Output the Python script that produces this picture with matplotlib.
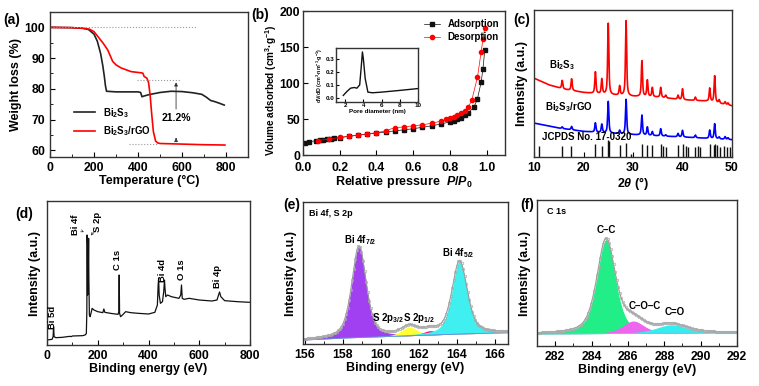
import numpy as np
import matplotlib
matplotlib.use('Agg')
import matplotlib.pyplot as plt
from matplotlib.ticker import MultipleLocator

plt.rcParams.update({
    'font.family': 'Liberation Sans',
    'font.weight': 'bold',
    'axes.labelweight': 'bold',
    'mathtext.fontset': 'custom',
    'mathtext.rm': 'Liberation Sans:bold',
    'mathtext.it': 'Liberation Sans:italic:bold',
    'mathtext.bf': 'Liberation Sans:bold',
    'xtick.direction': 'in',
    'ytick.direction': 'in',
    'axes.linewidth': 1.0,
    'axes.edgecolor': '#333333',
    'xtick.labelsize': 8.8,
    'ytick.labelsize': 8.8,
    'axes.labelsize': 9,
})

# (a) TGA
tga_T_bi2s3 = [0, 100, 150, 175, 200, 215, 230, 240, 247, 252, 257, 300, 350, 400, 412, 418, 425, 450,
               500, 550, 600, 650, 690, 710, 730, 750, 770, 792]
tga_w_bi2s3 = [100, 99.9, 99.7, 99.3, 97.8, 95.5, 91.5, 87.5, 84, 81, 79.2, 79, 79, 79, 78.8, 77.4, 77.6, 78.1,
               78.8, 79.2, 79.1, 78.7, 78.2, 77.3, 76.2, 75.8, 75.3, 74.7]
tga_T_rgo = [0, 100, 150, 180, 200, 220, 240, 262, 285, 300, 323, 368, 414, 422, 428, 440, 448, 455, 462,
             470, 480, 489, 500, 600, 700, 795]
tga_w_rgo = [100, 99.9, 99.7, 99.4, 98.6, 96.8, 95, 92.7, 88.9, 87.8, 86.8, 85.6, 85.2, 85.1, 84, 83.5, 82,
             78, 72, 66, 63, 62.4, 62.2, 62, 61.8, 61.7]

# (b) N2 isotherm
ads_p = [0.01, 0.03, 0.07, 0.09, 0.11, 0.13, 0.15, 0.17, 0.2, 0.25, 0.3, 0.35, 0.4, 0.45, 0.5, 0.55, 0.6,
         0.65, 0.7, 0.75, 0.8, 0.82, 0.84, 0.86, 0.88, 0.9, 0.93, 0.95, 0.97, 0.98, 0.99]
ads_v = [16, 18, 20, 21, 21.5, 22, 22.5, 23, 24, 26, 27.5, 29, 30.5, 32, 33.5, 35, 36.5, 38.5, 40.5, 43,
         46, 47.5, 49.5, 52, 55, 59, 66, 78, 101, 120, 146]
des_p = [0.08, 0.14, 0.2, 0.25, 0.3, 0.35, 0.4, 0.45, 0.5, 0.55, 0.6, 0.65, 0.7, 0.75, 0.78, 0.8, 0.82,
         0.84, 0.86, 0.88, 0.9, 0.92, 0.95, 0.97, 0.98, 0.99]
des_v = [20, 22, 24.5, 26, 27.5, 29.5, 31, 33.5, 38, 39, 40.5, 42, 44, 47, 49.5, 51, 53, 55, 58, 61, 66,
         77, 108, 143, 161, 177]
pore_d = [1.8, 2.2, 2.6, 3.0, 3.3, 3.6, 3.75, 3.9, 4.0, 4.2, 4.5, 5.0, 6.0, 8.0, 10.0]
pore_v = [0.02, 0.05, 0.075, 0.08, 0.075, 0.1, 0.22, 0.35, 0.3, 0.15, 0.045, 0.04, 0.045, 0.058, 0.072]

# (c) XRD
xrd_pos = [15.7, 17.6, 22.4, 23.7, 25.0, 27.3, 28.6, 31.8, 32.9, 33.9, 35.6, 36.6, 39.1, 40.0, 42.6,
           45.5, 46.5, 47.4, 48.6, 49.2]
xrd_red_h = [25, 35, 65, 45, 215, 28, 227, 108, 50, 28, 30, 8, 12, 33, 10, 40, 80, 10, 8, 6]
xrd_blue_h = [5, 10, 28, 25, 95, 10, 105, 60, 25, 12, 22, 4, 10, 20, 8, 25, 45, 6, 8, 5]
red_base_x = [10, 13, 16, 20, 25, 30, 35, 40, 45, 50]
red_base_y = [237, 217, 204, 194, 187, 182, 180, 172, 168, 154]
blue_base_x = [10, 15, 20, 25, 30, 40, 50]
blue_base_y = [102, 87, 77, 72, 67, 60, 52]
jcpds_pos = [11.1, 15.7, 17.5, 22.3, 23.7, 24.9, 25.2, 27.4, 28.6, 29.5, 31.8, 32.9, 33.9, 35.6, 36.0, 36.6,
             39.1, 40.0, 40.7, 41.2, 42.5, 43.1, 43.6, 45.5, 46.4, 46.6, 46.9, 47.5, 48.3, 49.0, 49.6]
jcpds_h = [32, 32, 34, 40, 34, 52, 48, 35, 42, 8, 40, 35, 37, 39, 34, 30, 35, 39, 32, 30, 30, 32, 30, 39,
           35, 40, 35, 30, 32, 30, 30]

# (d) XPS survey
sur_e = [0, 10, 20, 24, 26, 28, 35, 60, 90, 95, 100, 140, 150, 155, 157, 158, 159, 160, 162, 164, 165, 167,
         170, 178, 185, 200, 220, 224, 228, 250, 280, 283, 284.5, 286, 290, 300, 310, 330, 360, 400, 425, 435,
         438, 440, 442, 447, 455, 460, 463, 465, 468, 475, 490, 520, 527, 530, 533, 540, 560, 600, 650, 670,
         676, 680, 685, 700, 750, 800]
sur_i = [15, 16, 17, 25, 55, 25, 22, 23, 26, 25, 27, 28, 30, 34, 100, 330, 300, 150, 180, 320, 200, 90, 85,
         110, 105, 100, 97, 108, 98, 95, 92, 100, 210, 95, 85, 92, 100, 97, 95, 93, 98, 120, 180, 200, 150,
         125, 130, 160, 195, 170, 145, 150, 145, 140, 150, 180, 140, 137, 140, 135, 132, 135, 150, 159, 145,
         133, 130, 128]

# (e) Bi 4f / S 2p fit
e_names = ['Bi 4f7/2', 'S 2p3/2', 'S 2p1/2', 'Bi 4f5/2']
e_center = [158.85, 161.5, 162.6, 164.15]
e_amp = [274, 26, 13, 219]
e_fwhm = [0.9, 1.0, 0.9, 0.95]
e_color = ['#A040F0', '#FFFF33', '#FF1A75', '#40F0F0']
e_bg_x = [155.9, 158, 160, 162, 164, 166.7]
e_bg_y = [12, 18, 22, 26, 30, 34]

# (f) C 1s fit
f_center = [284.8, 286.3, 288.4]
f_amp = [282, 37, 25]
f_fwhm = [1.2, 1.4, 2.0]
f_color = ['#22EE88', '#EE66EE', '#33EEF0']
f_bg_x = [281, 292]
f_bg_y = [36, 40]


def pv(x, c, a, w, eta=0.5):
    g = np.exp(-4 * np.log(2) * (x - c) ** 2 / w ** 2)
    l = 1 / (1 + 4 * (x - c) ** 2 / w ** 2)
    return a * (eta * l + (1 - eta) * g)


W, H = 759, 386
fig = plt.figure(figsize=(W / 100, H / 100), dpi=100)


def rect(l, r, t, b):
    return [l / W, 1 - b / H, (r - l) / W, (b - t) / H]


# ---- (a)
ax = fig.add_axes(rect(50, 248, 12, 157))
ax.plot(tga_T_bi2s3, tga_w_bi2s3, color='#222222', lw=1.2, label='Bi$_2$S$_3$')
ax.plot(tga_T_rgo, tga_w_rgo, color='#FF0000', lw=1.2, label='Bi$_2$S$_3$/rGO')
ax.plot([0, 670], [100, 100], ls=':', color='#999999', lw=0.8)
ax.plot([395, 595], [83, 83], ls=':', color='#999999', lw=0.8)
ax.plot([360, 490], [62, 62], ls=':', color='#999999', lw=0.8)
ax.annotate('', xy=(573, 83), xytext=(573, 72.5),
            arrowprops=dict(arrowstyle='-|>', color='#333333', lw=0.6, mutation_scale=5))
ax.annotate('', xy=(573, 64), xytext=(573, 62.8),
            arrowprops=dict(arrowstyle='-|>', color='#333333', lw=0.6, mutation_scale=5))
ax.text(575, 70.5, '21.2%', ha='center', va='center', fontsize=7.5)
ax.set_xlim(0, 900)
ax.set_ylim(57.8, 105)
ax.xaxis.set_major_locator(MultipleLocator(200))
ax.xaxis.set_minor_locator(MultipleLocator(100))
ax.yaxis.set_major_locator(MultipleLocator(10))
ax.yaxis.set_minor_locator(MultipleLocator(5))
ax.set_xlabel('Temperature (°C)', labelpad=1)
ax.set_ylabel('Weight loss (%)', labelpad=2)
ax.legend(loc='upper left', bbox_to_anchor=(0.1, 0.38), frameon=False, fontsize=7,
          handlelength=2.2, labelspacing=0.5, borderaxespad=0)
fig.text(3 / W, 1 - 20 / H, '(a)', fontsize=10, va='center')

# ---- (b)
ax = fig.add_axes(rect(303, 505, 11, 155))
ax.plot(ads_p, ads_v, '-s', color='#111111', ms=3, lw=0.5, label='Adsorption')
ax.plot(des_p, des_v, '-o', color='#FF0000', ms=3, lw=0.5, label='Desorption')
ax.set_xlim(0, 1.1)
ax.set_ylim(0, 200)
ax.xaxis.set_major_locator(MultipleLocator(0.2))
ax.yaxis.set_major_locator(MultipleLocator(50))
ax.tick_params(axis='y', pad=2)
ax.tick_params(axis='x', pad=5)
ax.set_xlabel('Relative pressure  $P/P_0$', labelpad=0)
ax.set_ylabel('Volume adsorbed (cm$^3$·g$^{-1}$)', fontsize=7.2)
ax.yaxis.set_label_coords(-0.118, 0.45)
ax.legend(loc='upper right', bbox_to_anchor=(0.99, 0.97), frameon=False, fontsize=7,
          handlelength=1.6, labelspacing=0.3, borderaxespad=0)
fig.text(251 / W, 1 - 15 / H, '(b)', fontsize=10, va='center')

ins = fig.add_axes(rect(336, 418, 48, 102))
ins.plot(pore_d, pore_v, color='#111111', lw=1.0)
ins.set_xlim(1, 10)
ins.set_ylim(-0.03, 0.38)
ins.xaxis.set_major_locator(MultipleLocator(2))
ins.yaxis.set_major_locator(MultipleLocator(0.1))
ins.tick_params(labelsize=4.5, length=2, pad=1)
ins.set_xlabel('Pore diameter (nm)', fontsize=4.5, labelpad=0.5)
ins.set_ylabel('dV/dD (cm$^3$·nm$^{-1}$·g$^{-1}$)', fontsize=3.8, labelpad=0.5)

# ---- (c)
ax = fig.add_axes(rect(534, 732, 10, 157))
tt = np.linspace(10, 50, 2000)
red_curve = np.interp(tt, red_base_x, red_base_y)
blue_curve = np.interp(tt, blue_base_x, blue_base_y)
for p, hr, hb in zip(xrd_pos, xrd_red_h, xrd_blue_h):
    red_curve = red_curve + pv(tt, p, hr, 0.28, 0.7)
    blue_curve = blue_curve + pv(tt, p, hb, 0.28, 0.7)
ax.plot(tt, red_curve, color='#FF0000', lw=1.2)
ax.plot(tt, blue_curve, color='#0000FF', lw=1.2)
ax.vlines(jcpds_pos, 0, jcpds_h, color='#111111', lw=1.0)
ax.text(13.0, 275, 'Bi$_2$S$_3$', fontsize=7, va='center')
ax.text(12.3, 150, 'Bi$_2$S$_3$/rGO', fontsize=7, va='center')
ax.text(11.6, 60, 'JCPDS No. 17-0320', fontsize=7, va='center')
ax.set_xlim(10, 50)
ax.set_ylim(0, 442)
ax.set_yticks([])
ax.xaxis.set_major_locator(MultipleLocator(10))
ax.set_xlabel('2$\\theta$ (°)', labelpad=1)
ax.set_ylabel('Intensity (a.u.)', labelpad=4)
fig.text(513 / W, 1 - 20 / H, '(c)', fontsize=10, va='center')

# ---- (d)
ax = fig.add_axes(rect(47, 250, 201, 345))
ax.plot(sur_e, sur_i, color='#111111', lw=0.9)
ax.set_xlim(0, 800)
ax.set_ylim(0, 432)
ax.set_yticks([])
ax.xaxis.set_major_locator(MultipleLocator(200))
ax.xaxis.set_minor_locator(MultipleLocator(100))
ax.set_xlabel('Binding energy (eV)', labelpad=1)
ax.set_ylabel('Intensity (a.u.)', labelpad=4)
for s, x, y in [('Bi 5d', 23, 82), ('Bi 4f', 112, 360), ('S 2p', 200, 370), ('C 1s', 278, 255),
                ('Bi 4d', 455, 225), ('O 1s', 529, 225), ('Bi 4p', 671, 205)]:
    ax.text(x, y, s, rotation=90, fontsize=6.8, ha='center', va='center')
ax.annotate('', xy=(155, 335), xytext=(128, 345),
            arrowprops=dict(arrowstyle='->', color='#333333', lw=0.5, mutation_scale=4))
ax.annotate('', xy=(166, 322), xytext=(190, 345),
            arrowprops=dict(arrowstyle='->', color='#333333', lw=0.5, mutation_scale=4))
fig.text(15 / W, 1 - 214 / H, '(d)', fontsize=10, va='center')

# ---- (e)
ax = fig.add_axes(rect(303, 508, 202, 344))
ee = np.linspace(155.9, 166.7, 800)
bg_e = np.interp(ee, e_bg_x, e_bg_y)
comps = [pv(ee, c, a, w) for c, a, w in zip(e_center, e_amp, e_fwhm)]
for comp, col in zip(comps, e_color):
    ax.fill_between(ee, bg_e, bg_e + comp, color=col, lw=0)
env = bg_e + np.sum(comps, axis=0)
ax.plot(ee, bg_e, color='#6688DD', lw=0.6)
ax.plot(ee, env, color='#999999', lw=0.8)
ax.plot(ee[::6], env[::6], 'o', mfc='none', mec='#AAAAAA', ms=1.8, mew=0.5)
ax.text(158.9, 312, 'Bi 4f$_{7/2}$', fontsize=7, ha='center', va='center')
ax.text(164.1, 272, 'Bi 4f$_{5/2}$', fontsize=7, ha='center', va='center')
ax.text(160.4, 77, 'S 2p$_{3/2}$', fontsize=7, ha='center', va='center')
ax.text(162.0, 77, 'S 2p$_{1/2}$', fontsize=7, ha='center', va='center')
ax.text(0.03, 0.92, 'Bi 4f, S 2p', transform=ax.transAxes, fontsize=6.5, va='center')
ax.set_xlim(155.9, 166.7)
ax.set_ylim(0, 427)
ax.set_yticks([])
ax.xaxis.set_major_locator(MultipleLocator(2))
ax.xaxis.set_minor_locator(MultipleLocator(1))
ax.set_xlabel('Binding energy (eV)', labelpad=1)
ax.set_ylabel('Intensity (a.u.)', labelpad=4)
fig.text(283 / W, 1 - 205 / H, '(e)', fontsize=10, va='center')

# ---- (f)
ax = fig.add_axes(rect(537, 737, 200, 346))
ff = np.linspace(281, 292, 800)
bg_f = np.interp(ff, f_bg_x, f_bg_y)
comps = [pv(ff, c, a, w) for c, a, w in zip(f_center, f_amp, f_fwhm)]
for comp, col in zip(comps, f_color):
    ax.fill_between(ff, bg_f, bg_f + comp, color=col, lw=0)
env = bg_f + np.sum(comps, axis=0)
ax.plot(ff, bg_f, color='#66CCDD', lw=0.6)
ax.plot(ff, env, color='#999999', lw=0.8)
ax.plot(ff[::6], env[::6], 'o', mfc='none', mec='#AAAAAA', ms=1.8, mew=0.5)
ax.text(284.8, 348, 'C–C', fontsize=7, ha='center', va='center')
ax.text(286.9, 120, 'C–O–C', fontsize=7, ha='center', va='center')
ax.text(288.6, 103, 'C=O', fontsize=7, ha='center', va='center')
ax.text(0.05, 0.92, 'C 1s', transform=ax.transAxes, fontsize=6.5, va='center')
ax.set_xlim(281, 292)
ax.set_ylim(0, 438)
ax.set_yticks([])
ax.xaxis.set_major_locator(MultipleLocator(2))
ax.xaxis.set_minor_locator(MultipleLocator(1))
ax.set_xlabel('Binding energy (eV)', labelpad=1)
ax.set_ylabel('Intensity (a.u.)', labelpad=4)
fig.text(520 / W, 1 - 205 / H, '(f)', fontsize=10, va='center')

fig.savefig('out.png', dpi=100)
